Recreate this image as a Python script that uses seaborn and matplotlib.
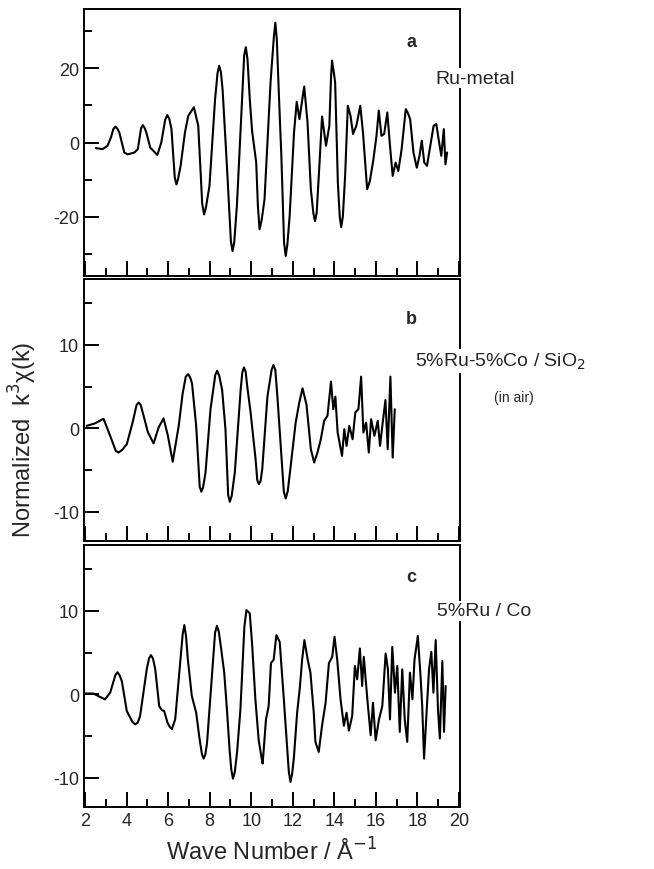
import numpy as np
import pandas as pd
import seaborn as sns
import matplotlib
matplotlib.use("Agg")
import matplotlib.pyplot as plt
from matplotlib.ticker import MultipleLocator

# EXAFS k^3-weighted spectra
k_a = [2.52, 2.84, 3.08, 3.25, 3.36, 3.46, 3.56, 3.65, 3.89, 4.05, 4.38, 4.54, 4.70, 4.78, 4.86,
       4.95, 5.14, 5.30, 5.48, 5.67, 5.86, 5.96, 6.06, 6.16, 6.32, 6.40, 6.48, 6.60, 6.81, 6.97,
       7.24, 7.45, 7.64, 7.73, 7.82, 7.99, 8.26, 8.38, 8.46, 8.54, 8.62, 8.83, 9.02, 9.10, 9.18,
       9.31, 9.56, 9.66, 9.74, 9.82, 9.93, 10.04, 10.24, 10.32, 10.40, 10.50, 10.64, 10.93, 11.09,
       11.16, 11.23, 11.34, 11.45, 11.58, 11.66, 11.74, 11.85, 12.06, 12.19, 12.32, 12.55, 12.71,
       12.87, 12.99, 13.07, 13.15, 13.28, 13.41, 13.60, 13.76, 13.84, 13.89, 13.96, 14.04, 14.17,
       14.26, 14.33, 14.41, 14.52, 14.65, 14.78, 14.90, 15.06, 15.25, 15.38, 15.58, 15.71, 15.87,
       16.03, 16.14, 16.27, 16.40, 16.55, 16.68, 16.81, 16.95, 17.08, 17.24, 17.44, 17.53, 17.65,
       17.81, 17.97, 18.10, 18.21, 18.33, 18.46, 18.62, 18.78, 18.91, 19.02, 19.15, 19.27, 19.35, 19.43]
chi_a = [-1.5, -1.8, -0.9, 1.4, 3.6, 4.3, 3.7, 2.7, -2.7, -3.2, -2.7, -1.8, 3.9, 4.7, 4.0,
         2.7, -1.4, -2.3, -3.4, 0.0, 6.2, 7.4, 6.3, 3.6, -9.5, -11.3, -9.8, -6.3, 2.7, 7.2,
         9.5, 4.5, -16.5, -19.4, -17.5, -11.7, 11.7, 18.8, 20.7, 19.0, 14.4, -6.3, -26.5, -29.3, -27.0,
         -17.1, 11.7, 23.5, 25.7, 22.5, 11.7, 3.2, -5.4, -17.0, -23.4, -21.0, -15.3, 16.2, 28.5,
         32.3, 28.0, 11.7, -3.6, -27.0, -30.6, -27.5, -19.8, 2.7, 11.0, 6.3, 15.1, 5.4,
         -12.6, -19.0, -21.2, -19.0, -6.3, 7.0, -0.9, 4.5, 17.5, 22.1, 19.5, 16.2, -10.8,
         -20.0, -22.8, -20.0, -9.0, 9.9, 7.2, 2.3, 4.5, 9.9, 2.7, -12.6, -10.4, -5.0,
         1.8, 8.6, 1.8, 2.3, 8.1, -0.9, -9.0, -5.4, -7.7, -1.8, 9.0, 8.1, 6.3,
         -2.7, -6.8, -3.6, 0.5, -5.4, -6.3, -0.9, 4.5, 5.0, 0.9, -3.6, 3.6, -5.9, -2.7]

k_b = [2.08, 2.48, 2.89, 3.21, 3.48, 3.61, 3.78, 4.01, 4.29, 4.48, 4.58, 4.68, 4.82, 5.03, 5.30,
       5.54, 5.78, 5.99, 6.22, 6.51, 6.70, 6.85, 6.96, 7.06, 7.15, 7.35, 7.52, 7.60, 7.68, 7.80,
       8.04, 8.27, 8.36, 8.46, 8.60, 8.76, 8.89, 8.97, 9.06, 9.21, 9.49, 9.57, 9.65, 9.73, 9.81,
       9.97, 10.21, 10.29, 10.37, 10.45, 10.53, 10.78, 10.98, 11.07, 11.16, 11.26, 11.42, 11.57,
       11.66, 11.76, 11.90, 12.14, 12.31, 12.47, 12.66, 12.87, 13.03, 13.19, 13.35, 13.51, 13.67,
       13.84, 13.95, 14.05, 14.16, 14.37, 14.48, 14.59, 14.72, 14.88, 15.01, 15.16, 15.29, 15.40,
       15.53, 15.66, 15.77, 15.93, 16.09, 16.20, 16.33, 16.46, 16.57, 16.70, 16.81, 16.91]
chi_b = [0.3, 0.6, 1.15, -0.9, -2.7, -2.9, -2.6, -1.9, 0.7, 2.8, 3.1, 2.8, 1.5, -0.5, -1.8,
         0.1, 1.2, -0.9, -4.0, 0.3, 4.2, 6.2, 6.5, 6.1, 5.4, 0.3, -7.0, -7.6, -7.1, -5.3,
         2.3, 6.4, 6.9, 6.3, 4.6, -0.1, -8.0, -8.8, -8.1, -5.3, 4.6, 6.7, 7.3, 6.8, 5.0,
         1.9, -3.7, -6.2, -6.7, -6.3, -4.9, 3.8, 7.0, 7.6, 7.0, 3.8, -2.1, -7.6,
         -8.4, -7.5, -4.5, 0.7, 3.05, 4.8, 2.85, -2.5, -4.1, -2.9, -1.3, 0.9, 1.5,
         5.6, 2.3, 3.8, -0.5, -3.3, -0.1, -2.1, 0.3, -1.3, 1.9, 2.3, 6.2, -0.5,
         0.7, -2.9, 1.1, -0.9, 0.9, -2.1, 0.7, 3.4, -2.5, 6.2, -3.5, 2.3]

k_c = [2.00, 2.40, 2.64, 2.96, 3.21, 3.46, 3.56, 3.66, 3.77, 4.01, 4.28, 4.41, 4.53, 4.65, 4.97,
       5.08, 5.17, 5.27, 5.38, 5.57, 5.70, 5.81, 5.97, 6.08, 6.18, 6.34, 6.55, 6.70, 6.78, 6.86,
       6.95, 7.14, 7.35, 7.51, 7.63, 7.71, 7.79, 7.87, 8.11, 8.26, 8.35, 8.44, 8.54, 8.70, 8.83,
       8.96, 9.04, 9.12, 9.21, 9.32, 9.48, 9.67, 9.77, 9.93, 10.04, 10.20, 10.36, 10.49, 10.55,
       10.71, 10.84, 10.95, 11.08, 11.21, 11.37, 11.57, 11.73, 11.81, 11.89, 11.97, 12.05, 12.21,
       12.34, 12.45, 12.56, 12.72, 12.85, 13.01, 13.09, 13.25, 13.41, 13.58, 13.74, 13.90, 14.01,
       14.14, 14.30, 14.46, 14.59, 14.70, 14.86, 14.99, 15.10, 15.23, 15.34, 15.42, 15.59, 15.75,
       15.86, 15.99, 16.15, 16.31, 16.47, 16.58, 16.68, 16.79, 16.92, 17.03, 17.15, 17.27, 17.39,
       17.51, 17.64, 17.76, 17.86, 18.02, 18.15, 18.23, 18.32, 18.44, 18.56, 18.67, 18.77, 18.88,
       18.99, 19.08, 19.20, 19.28, 19.36]
chi_c = [0.1, 0.1, -0.2, -0.6, 0.2, 2.3, 2.65, 2.3, 1.6, -2.0, -3.3, -3.6, -3.4, -2.6, 3.0,
         4.3, 4.7, 4.3, 3.0, -1.4, -1.9, -2.0, -3.4, -3.9, -4.15, -3.0, 3.0, 7.2, 8.3, 7.0,
         4.15, -0.2, -2.2, -5.3, -7.2, -7.7, -7.2, -5.9, 2.2, 7.4, 8.2, 7.5, 5.7, 2.6, -1.8,
         -6.7, -9.0, -10.1, -9.3, -6.9, -1.8, 8.1, 10.1, 9.7, 6.1, -0.6, -5.5, -7.5, -8.3,
         -3.0, -1.4, 3.75, 4.15, 7.1, 6.3, -0.6, -6.5, -9.3, -10.5, -9.5, -7.7, -2.2,
         0.8, 4.15, 6.5, 4.15, 2.6, -2.2, -5.7, -6.9, -3.75, -1.0, 3.75, 4.5, 6.9,
         4.15, -0.6, -3.75, -2.2, -4.35, -2.6, 3.4, 1.8, 5.5, 1.0, 4.5, -0.6, -4.9,
         -1.0, -5.5, -3.0, -1.4, 4.9, 3.0, -3.0, 5.7, 0.2, 3.4, -4.5, 3.0, -3.0,
         -5.7, 2.6, -0.6, 4.15, 7.0, 2.2, -1.4, -7.7, -2.2, 3.0, 5.1, 0.2, 6.5,
         -1.8, -5.3, 4.0, -4.5, 1.0]

panel_letters = ["a", "b", "c"]
ylims = [(-36, 36), (-13.5, 17.9), (-13.5, 17.9)]
major_steps = [20, 10, 10]

sns.set_style("ticks")
plt.rcParams['font.family'] = ['Liberation Sans', 'DejaVu Sans']
plt.rcParams['axes.unicode_minus'] = False

fig = plt.figure(figsize=(6.54, 8.70), dpi=100)
W, H = 654, 870
left, right = 84, 460
boxes = [(10, 277), (280, 542), (546, 808)]
series = [(k_a, chi_a), (k_b, chi_b), (k_c, chi_c)]

axes = []
for i, ((top, bot), (kk, cc)) in enumerate(zip(boxes, series)):
    ax = fig.add_axes([left / W, 1 - bot / H, (right - left) / W, (bot - top) / H])
    df = pd.DataFrame({"k": kk, "chi": cc})
    sns.lineplot(data=df, x="k", y="chi", sort=False, estimator=None, color="black",
                 linewidth=1.5, solid_joinstyle="round", ax=ax)
    ax.set_xlim(1.95, 20.05)
    ax.set_ylim(*ylims[i])
    ax.xaxis.set_major_locator(MultipleLocator(2))
    ax.xaxis.set_minor_locator(MultipleLocator(1))
    ax.yaxis.set_major_locator(MultipleLocator(major_steps[i]))
    ax.yaxis.set_minor_locator(MultipleLocator(major_steps[i] / 2))
    ax.tick_params(which="both", direction="in", width=1.4, labelsize=13, color="black")
    ax.tick_params(which="major", length=11)
    ax.tick_params(which="minor", length=6)
    ax.set_xlabel("")
    ax.set_ylabel("")
    for sp in ax.spines.values():
        sp.set_visible(True)
        sp.set_linewidth(1.4)
        sp.set_color("black")
    if i < 2:
        ax.tick_params(axis="x", labelbottom=False)
    ax.text(0.87, [0.88, 0.85, 0.88][i], panel_letters[i], transform=ax.transAxes,
            fontsize=13, fontweight="bold", ha="center", va="center")
    axes.append(ax)

axes[2].set_xlabel("Wave Number / Å$^{-1}$", fontsize=17, labelpad=6)

box = dict(facecolor="white", edgecolor="none", pad=1)
fig.text(475 / W, 1 - 79 / H, "Ru-metal", fontsize=14, ha="center", va="center", bbox=box)
fig.text(500 / W, 1 - 362 / H, "5%Ru-5%Co / SiO$_2$", fontsize=14, ha="center", va="center", bbox=box)
fig.text(514 / W, 1 - 398 / H, "(in air)", fontsize=10, ha="center", va="center", bbox=box)
fig.text(484 / W, 1 - 612 / H, "5%Ru / Co", fontsize=14, ha="center", va="center", bbox=box)
fig.text(23 / W, 1 - 440 / H, "Normalized  k$^3$χ(k)", fontsize=17, rotation=90,
         ha="center", va="center")

fig.savefig("out.png", dpi=100)
